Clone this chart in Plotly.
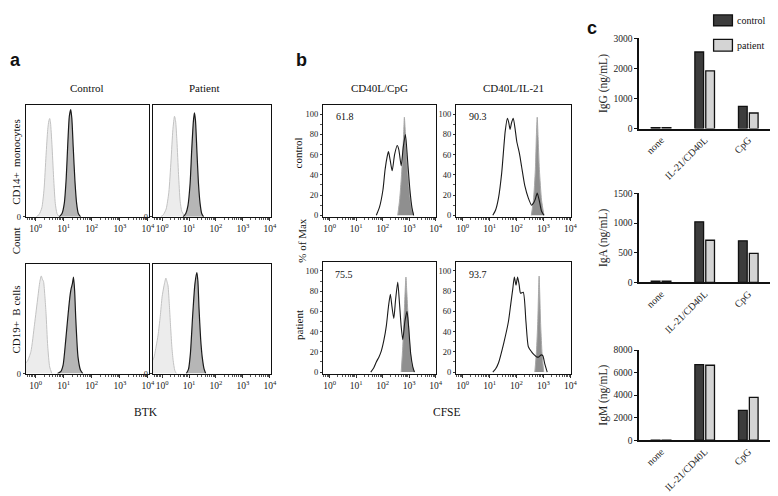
import numpy as np
import plotly.graph_objects as go

W, H = 778, 496

# ---------------- Panel a: BTK histograms (x = log10 intensity, y = % of max) ----------------
a_ctrl_cd14_iso_x = [0.02, 0.12, 0.22, 0.30, 0.37, 0.43, 0.47, 0.50, 0.53, 0.58, 0.64, 0.70, 0.76, 0.84]
a_ctrl_cd14_iso_y = [0, 2, 8, 25, 55, 78, 86, 88, 84, 65, 35, 12, 3, 0]
a_ctrl_cd14_btk_x = [0.84, 0.94, 1.02, 1.09, 1.15, 1.20, 1.25, 1.29, 1.34, 1.40, 1.46, 1.52, 1.60]
a_ctrl_cd14_btk_y = [0, 3, 12, 35, 68, 90, 96, 88, 62, 32, 12, 3, 0]

a_pat_cd14_iso_x = [-0.05, 0.05, 0.15, 0.25, 0.33, 0.40, 0.46, 0.50, 0.55, 0.61, 0.67, 0.73, 0.80, 0.88]
a_pat_cd14_iso_y = [0, 2, 7, 22, 50, 78, 90, 86, 68, 38, 14, 5, 2, 0]
a_pat_cd14_btk_x = [0.78, 0.88, 0.96, 1.04, 1.10, 1.16, 1.20, 1.24, 1.29, 1.35, 1.41, 1.47, 1.54]
a_pat_cd14_btk_y = [0, 3, 10, 30, 60, 85, 93, 86, 60, 30, 12, 3, 0]

a_ctrl_cd19_iso_x = [-0.35, -0.30, -0.17, -0.04, 0.08, 0.15, 0.20, 0.24, 0.28, 0.33, 0.37, 0.43, 0.50, 0.58]
a_ctrl_cd19_iso_y = [10, 11, 20, 45, 70, 84, 89, 86, 84, 70, 55, 25, 6, 0]
a_ctrl_cd19_btk_x = [0.78, 0.90, 0.98, 1.07, 1.16, 1.23, 1.27, 1.31, 1.35, 1.39, 1.43, 1.51, 1.60, 1.68]
a_ctrl_cd19_btk_y = [0, 2, 8, 30, 55, 72, 78, 82, 88, 75, 50, 15, 3, 0]

a_pat_cd19_iso_x = [-0.35, -0.30, -0.22, -0.15, -0.07, 0.00, 0.07, 0.14, 0.18, 0.22, 0.27, 0.31, 0.36, 0.41, 0.47, 0.53]
a_pat_cd19_iso_y = [12, 15, 25, 35, 52, 70, 80, 87, 84, 80, 62, 45, 25, 12, 3, 0]
a_pat_cd19_btk_x = [0.90, 0.98, 1.05, 1.14, 1.22, 1.29, 1.33, 1.37, 1.43, 1.49, 1.56, 1.62]
a_pat_cd19_btk_y = [0, 4, 18, 55, 82, 92, 84, 60, 32, 15, 4, 0]

# ---------------- Panel b: CFSE dilution (x = log10 CFSE, y = % of Max) ----------------
b_ctrl_cpg_x = [1.76, 1.88, 2.01, 2.09, 2.17, 2.22, 2.28, 2.36, 2.45, 2.55, 2.61, 2.70, 2.78, 2.86, 2.94, 3.03, 3.11, 3.17]
b_ctrl_cpg_y = [0, 8, 25, 45, 58, 63, 55, 44, 60, 69, 65, 49, 68, 80, 55, 25, 7, 0]
b_ctrl_cpg_unst_x = [2.57, 2.64, 2.70, 2.76, 2.80, 2.82, 2.85, 2.90, 2.96, 3.03, 3.10, 3.17]
b_ctrl_cpg_unst_y = [0, 15, 35, 60, 85, 97, 85, 60, 38, 18, 6, 0]

b_ctrl_il21_x = [1.12, 1.22, 1.33, 1.45, 1.58, 1.66, 1.71, 1.76, 1.82, 1.88, 1.95, 2.01, 2.11, 2.19, 2.31, 2.44, 2.56, 2.63, 2.70, 2.77, 2.85, 2.93, 3.02]
b_ctrl_il21_y = [0, 5, 17, 42, 83, 96, 92, 85, 92, 96, 85, 73, 61, 48, 29, 17, 10, 12, 16, 22, 14, 4, 0]
b_ctrl_il21_unst_x = [2.55, 2.63, 2.70, 2.74, 2.77, 2.80, 2.85, 2.93, 3.02]
b_ctrl_il21_unst_y = [0, 15, 45, 80, 97, 78, 45, 15, 0]

b_pat_cpg_x = [1.55, 1.66, 1.76, 1.86, 1.95, 2.05, 2.14, 2.22, 2.29, 2.35, 2.42, 2.49, 2.57, 2.63, 2.70, 2.76, 2.84, 2.92, 2.98, 3.06, 3.14, 3.20]
b_pat_cpg_y = [0, 4, 10, 15, 21, 32, 46, 65, 77, 65, 53, 72, 89, 70, 45, 32, 50, 60, 45, 18, 5, 0]
b_pat_cpg_unst_x = [2.70, 2.76, 2.81, 2.85, 2.88, 2.91, 2.96, 3.03, 3.10, 3.20]
b_pat_cpg_unst_y = [0, 25, 55, 80, 94, 80, 55, 25, 8, 0]

b_pat_il21_x = [1.12, 1.22, 1.33, 1.52, 1.70, 1.79, 1.86, 1.92, 1.98, 2.04, 2.10, 2.15, 2.25, 2.35, 2.44, 2.56, 2.66, 2.75, 2.83, 2.92, 2.98, 3.05, 3.14]
b_pat_il21_y = [0, 3, 9, 28, 50, 68, 82, 94, 86, 94, 86, 78, 79, 50, 25, 20, 17, 15, 15, 17, 16, 8, 0]
b_pat_il21_unst_x = [2.68, 2.74, 2.79, 2.82, 2.84, 2.86, 2.90, 2.95, 3.01]
b_pat_il21_unst_y = [0, 20, 50, 80, 95, 80, 45, 18, 0]

b_percent_labels = ["61.8", "90.3", "75.5", "93.7"]

# ---------------- Panel c: immunoglobulin secretion ----------------
categories = ["none", "IL-21/CD40L", "CpG"]
igg_control = [30, 2550, 740]
igg_patient = [35, 1920, 520]
iga_control = [20, 1020, 700]
iga_patient = [20, 710, 490]
igm_control = [15, 6700, 2650]
igm_patient = [10, 6650, 3800]

decade_ticks = [0, 1, 2, 3, 4]

SERIF = "Liberation Serif, Times New Roman, serif"
SANS = "Liberation Sans, Arial, sans-serif"


def dx(x0, x1):
    return [x0 / W, x1 / W]


def dy(y0, y1):
    return [1 - y1 / H, 1 - y0 / H]


fig = go.Figure()

LIGHT_FILL, LIGHT_LINE = "#ececec", "#c2c2c2"
DARK_FILL, DARK_LINE = "#b6b6b6", "#1a1a1a"
UNST_FILL, UNST_LINE = "#8f8f8f", "#a8a8a8"


def hist(xlog, y, ax, fill, line, width=1.0, filled=True):
    fig.add_trace(go.Scatter(
        x=10 ** np.asarray(xlog, dtype=float), y=y, mode="lines",
        line=dict(color=line, width=width, shape="spline", smoothing=0.6),
        fill="tozeroy" if filled else None,
        fillcolor=fill if filled else None,
        xaxis="x" + ax, yaxis="y" + ax, hoverinfo="skip"))


# panel a
for ax, (lx, ly, dxl, dyl) in zip(["", "2", "3", "4"], [
        (a_ctrl_cd14_iso_x, a_ctrl_cd14_iso_y, a_ctrl_cd14_btk_x, a_ctrl_cd14_btk_y),
        (a_pat_cd14_iso_x, a_pat_cd14_iso_y, a_pat_cd14_btk_x, a_pat_cd14_btk_y),
        (a_ctrl_cd19_iso_x, a_ctrl_cd19_iso_y, a_ctrl_cd19_btk_x, a_ctrl_cd19_btk_y),
        (a_pat_cd19_iso_x, a_pat_cd19_iso_y, a_pat_cd19_btk_x, a_pat_cd19_btk_y)]):
    hist(lx, ly, ax, LIGHT_FILL, LIGHT_LINE, 1.0)
    hist(dxl, dyl, ax, DARK_FILL, DARK_LINE, 1.2)

# panel b
for ax, (ux, uy, sx, sy) in zip(["5", "6", "7", "8"], [
        (b_ctrl_cpg_unst_x, b_ctrl_cpg_unst_y, b_ctrl_cpg_x, b_ctrl_cpg_y),
        (b_ctrl_il21_unst_x, b_ctrl_il21_unst_y, b_ctrl_il21_x, b_ctrl_il21_y),
        (b_pat_cpg_unst_x, b_pat_cpg_unst_y, b_pat_cpg_x, b_pat_cpg_y),
        (b_pat_il21_unst_x, b_pat_il21_unst_y, b_pat_il21_x, b_pat_il21_y)]):
    hist(ux, uy, ax, UNST_FILL, UNST_LINE, 1.0)
    hist(sx, sy, ax, None, "#1a1a1a", 1.1, filled=False)

# panel c
CTRL_COL, PAT_COL = "#3c3c3c", "#d4d4d4"
for ax, ctrl, pat in [("9", igg_control, igg_patient), ("10", iga_control, iga_patient),
                      ("11", igm_control, igm_patient)]:
    fig.add_trace(go.Bar(x=categories, y=ctrl, name="control", marker=dict(color=CTRL_COL, line=dict(color="#111", width=1.3)),
                         offsetgroup="c", xaxis="x" + ax, yaxis="y" + ax))
    fig.add_trace(go.Bar(x=categories, y=pat, name="patient", marker=dict(color=PAT_COL, line=dict(color="#111", width=1.3)),
                         offsetgroup="p", xaxis="x" + ax, yaxis="y" + ax))

layout = dict(
    width=W, height=H, margin=dict(l=0, r=0, t=0, b=0),
    paper_bgcolor="white", plot_bgcolor="white", showlegend=False,
    font=dict(family=SERIF, color="#222", size=9),
    barmode="group", bargap=0.5, bargroupgap=0.2,
)

tick_text = ["10<sup>%d</sup>" % k for k in decade_ticks]
tick_vals = [10 ** k for k in decade_ticks]

box_axes = {
    "": ((18, 142), (94, 208), "a"),
    "2": ((146, 265), (94, 208), "a"),
    "3": ((18, 142), (256, 368), "a"),
    "4": ((146, 265), (256, 368), "a"),
    "5": ((318, 432), (94, 208), "b"),
    "6": ((452, 568), (94, 208), "b"),
    "7": ((318, 432), (254, 368), "b"),
    "8": ((452, 568), (254, 368), "b"),
}
for ax, ((x0, x1), (y0, y1), panel) in box_axes.items():
    xr = [-0.35, 4.03] if panel == "a" else [-0.25, 4.02]
    layout["xaxis" + ax] = dict(
        domain=dx(x0, x1), anchor="y" + ax, type="log", range=xr,
        tickvals=tick_vals, ticktext=tick_text, ticks="outside", ticklen=3, tickcolor="#333",
        minor=dict(ticks="outside", ticklen=2, tickcolor="#555", dtick="D1"),
        showline=True, mirror=True, linecolor="#111", linewidth=1.2,
        showgrid=False, zeroline=False, tickfont=dict(size=9.5, family=SERIF))
    if panel == "a":
        yax = dict(range=[0, 100], tickvals=[0], ticktext=["0"])
    else:
        yax = dict(range=[-1.5, 109], tickvals=[0, 20, 40, 60, 80, 100],
                   minor=dict(ticks="outside", ticklen=2, tickcolor="#555", dtick=10))
    layout["yaxis" + ax] = dict(
        domain=dy(y0, y1), anchor="x" + ax, ticks="outside", ticklen=2, tickcolor="#333",
        showline=True, mirror=True, linecolor="#111", linewidth=1.2,
        showgrid=False, zeroline=False, tickfont=dict(size=8.5, family=SERIF), **yax)

bar_axes = {
    "9": ((26, 118), [0, 3000], [0, 1000, 2000, 3000], "IgG (ng/mL)"),
    "10": ((184, 275), [0, 1500], [0, 500, 1000, 1500], "IgA (ng/mL)"),
    "11": ((344, 436), [0, 8000], [0, 2000, 4000, 6000, 8000], "IgM (ng/mL)"),
}
for ax, ((y0, y1), yr, tv, title) in bar_axes.items():
    layout["xaxis" + ax] = dict(
        domain=dx(637, 769), anchor="y" + ax, type="category", range=[-0.5, 2.5],
        showline=True, linecolor="#111", linewidth=1.6, ticks="", tickangle=-45,
        showgrid=False, zeroline=False, tickfont=dict(size=10, family=SERIF))
    layout["yaxis" + ax] = dict(
        domain=dy(y0, y1), anchor="x" + ax, range=yr, tickvals=tv,
        showline=True, linecolor="#111", linewidth=1.6, ticks="outside", ticklen=3, tickcolor="#111",
        showgrid=False, zeroline=False, tickfont=dict(size=9.5, family=SERIF),
        title=dict(text=title, standoff=4, font=dict(size=11.5, family=SERIF)))

fig.update_layout(**layout)


def ann(text, x, y, size=10, family=SERIF, angle=0, bold=False, xanchor="center"):
    fig.add_annotation(text=("<b>%s</b>" % text) if bold else text, x=x / W, y=1 - y / H,
                       xref="paper", yref="paper", showarrow=False, textangle=angle,
                       xanchor=xanchor, yanchor="middle", font=dict(size=size, family=family, color="#111"))


# panel letters
ann("a", 8, 48, 18, SANS, bold=True)
ann("b", 296, 48, 18, SANS, bold=True)
ann("c", 589, 15, 18, SANS, bold=True)

# column / row titles
ann("Control", 80, 77, 11)
ann("Patient", 198, 77, 11)
ann("CD40L/CpG", 375, 77, 11)
ann("CD40L/IL-21", 510, 77, 11)
ann("CD14+  monocytes", 8, 152, 11, angle=-90)
ann("Count", 8, 232, 11, angle=-90)
ann("CD19+  B cells", 8, 313, 11, angle=-90)
ann("control", 293, 143, 11, angle=-90)
ann("% of Max", 297, 232, 11, angle=-90)
ann("patient", 293, 318, 11, angle=-90)
ann("BTK", 139, 407, 11.5)
ann("CFSE", 443, 407, 11.5)

# percentages
ann(b_percent_labels[0], 329, 106, 10, xanchor="left")
ann(b_percent_labels[1], 463, 106, 10, xanchor="left")
ann(b_percent_labels[2], 328, 267, 10, xanchor="left")
ann(b_percent_labels[3], 463, 267, 10, xanchor="left")

# legend for panel c
for (y0, y1), col, lab in [((2, 13), CTRL_COL, "control"), ((27, 39), PAT_COL, "patient")]:
    fig.add_shape(type="rect", xref="paper", yref="paper", x0=712 / W, x1=731 / W,
                  y0=1 - y1 / H, y1=1 - y0 / H, fillcolor=col, line=dict(color="#111", width=1.3))
    ann(lab, 734, (y0 + y1) / 2, 10, xanchor="left")

fig.write_html("out.html")
